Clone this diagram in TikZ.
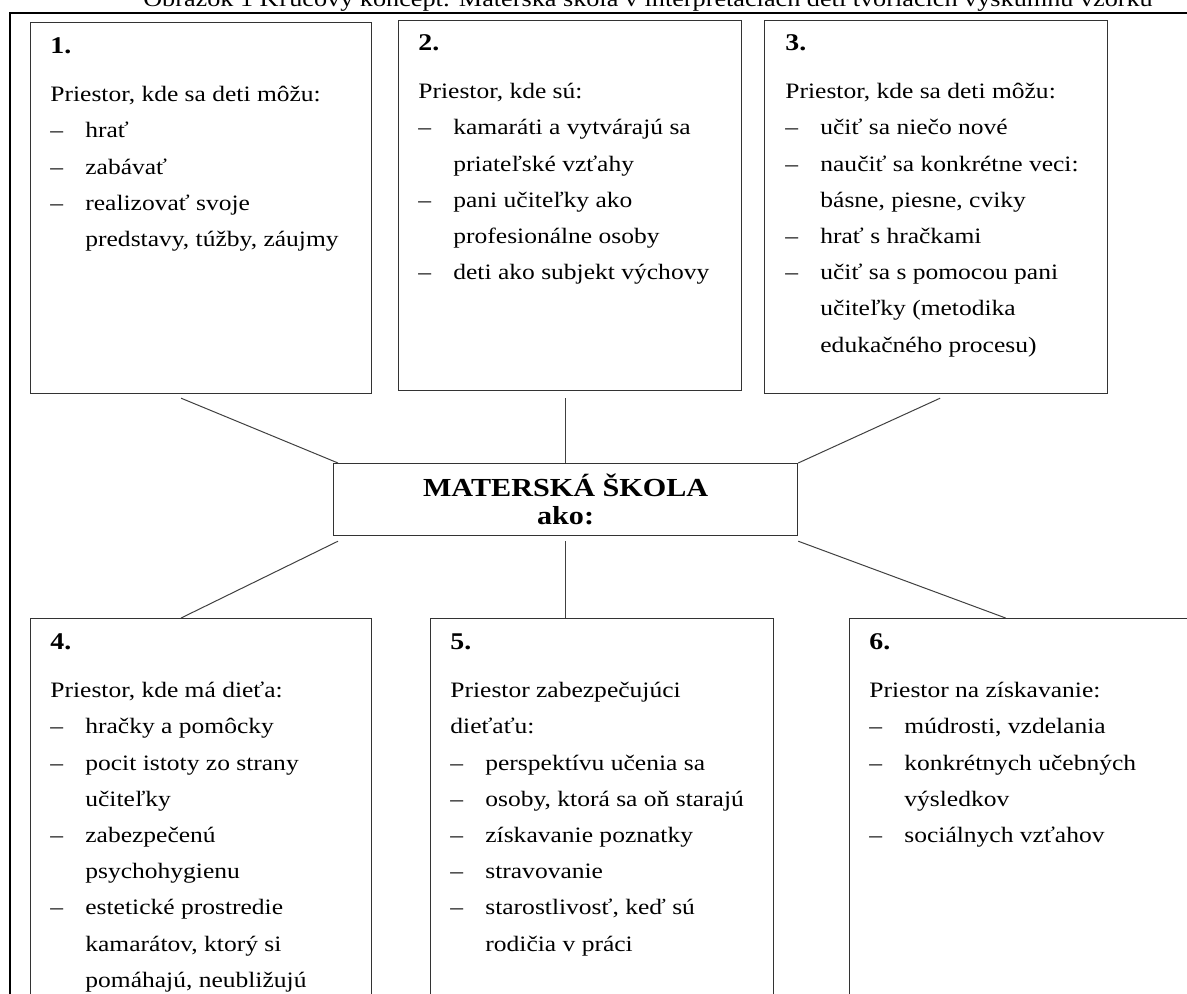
\documentclass[tikz,border=0pt]{standalone}
\usepackage{fontspec}
\setmainfont[FakeStretch=1.16]{Liberation Serif}
\usetikzlibrary{calc}

\newcommand{\itemdash}{\makebox[17.5pt][l]{--}}
\newcommand{\itemcont}{\hspace*{17.5pt}}
\newcommand{\boxnum}[1]{\strut{\fontsize{12}{18}\selectfont\bfseries #1}}

\begin{document}
\begin{tikzpicture}[x=0.5pt, y=-0.5pt,
    panel/.style={draw=black!80, line width=0.6pt, inner sep=0pt, anchor=north west},
    panetxt/.style={anchor=north west, inner sep=0pt, align=left, font=\fontsize{11}{18.1}\selectfont},
    link/.style={draw=black!75, line width=0.5pt}
]
\useasboundingbox (0,0) rectangle (1187,994);
\clip (0,0) rectangle (1187,994);

\node[anchor=base, inner sep=0pt, font=\fontsize{11.3}{14}\selectfont] (caption) at (648,7)
    {Obrázok 1 Kľúčový koncept: Materská škola v interpretáciách detí tvoriacich výskumnú vzorku};
\draw[line width=0.8pt] (10,13) rectangle (1200,1010);

\node[panel, minimum width=170.5pt, minimum height=185.5pt] (b1) at (30,22) {};
\node[panel, minimum width=171.5pt, minimum height=185pt] (b2) at (398,20) {};
\node[panel, minimum width=171.5pt, minimum height=186.5pt] (b3) at (764,20) {};
\node[panel, minimum width=170.5pt, minimum height=200pt] (b4) at (30,618) {};
\node[panel, minimum width=171.5pt, minimum height=200pt] (b5) at (430,618) {};
\node[panel, minimum width=171.5pt, minimum height=200pt] (b6) at (849,618) {};
\node[panel, minimum width=232pt, minimum height=36pt, align=center,
      font=\fontsize{13}{14}\selectfont\bfseries] (mid) at (333,463) {MATERSKÁ ŠKOLA\\ako:};

\node[panetxt] (t1) at (50,27.7) {\boxnum{1.}\\[6pt]
    Priestor, kde sa deti môžu:\\
    \itemdash hrať\\
    \itemdash zabávať\\
    \itemdash realizovať svoje\\
    \itemcont predstavy, túžby, záujmy};
\node[panetxt] (t2) at (418,24.7) {\boxnum{2.}\\[6pt]
    Priestor, kde sú:\\
    \itemdash kamaráti a vytvárajú sa\\
    \itemcont priateľské vzťahy\\
    \itemdash pani učiteľky ako\\
    \itemcont profesionálne osoby\\
    \itemdash deti ako subjekt výchovy};
\node[panetxt] (t3) at (785,24.7) {\boxnum{3.}\\[6pt]
    Priestor, kde sa deti môžu:\\
    \itemdash učiť sa niečo nové\\
    \itemdash naučiť sa konkrétne veci:\\
    \itemcont básne, piesne, cviky\\
    \itemdash hrať s hračkami\\
    \itemdash učiť sa s pomocou pani\\
    \itemcont učiteľky (metodika\\
    \itemcont edukačného procesu)};
\node[panetxt] (t4) at (50,623.7) {\boxnum{4.}\\[6pt]
    Priestor, kde má dieťa:\\
    \itemdash hračky a pomôcky\\
    \itemdash pocit istoty zo strany\\
    \itemcont učiteľky\\
    \itemdash zabezpečenú\\
    \itemcont psychohygienu\\
    \itemdash estetické prostredie\\
    \itemcont kamarátov, ktorý si\\
    \itemcont pomáhajú, neubližujú};
\node[panetxt] (t5) at (450,623.7) {\boxnum{5.}\\[6pt]
    Priestor zabezpečujúci\\
    dieťaťu:\\
    \itemdash perspektívu učenia sa\\
    \itemdash osoby, ktorá sa oň starajú\\
    \itemdash získavanie poznatky\\
    \itemdash stravovanie\\
    \itemdash starostlivosť, keď sú\\
    \itemcont rodičia v práci};
\node[panetxt] (t6) at (869,623.7) {\boxnum{6.}\\[6pt]
    Priestor na získavanie:\\
    \itemdash múdrosti, vzdelania\\
    \itemdash konkrétnych učebných\\
    \itemcont výsledkov\\
    \itemdash sociálnych vzťahov};

\draw[link] ([xshift=-10pt,yshift=-2pt]b1.south) -- ([xshift=2.5pt]mid.north west);
\draw[link] ($(mid.north |- b2.south)+(0,7)$) -- (mid.north);
\draw[link] ([xshift=2pt,yshift=-2pt]b3.south) -- (mid.north east);
\draw[link] ([xshift=2.5pt,yshift=-2.5pt]mid.south west) -- ([xshift=-10pt]b4.north);
\draw[link] ($(mid.south)+(0,5)$) -- (mid.south |- b5.north);
\draw[link] ([yshift=-2.5pt]mid.south east) -- ([xshift=-7.75pt]b6.north);
\end{tikzpicture}
\end{document}
